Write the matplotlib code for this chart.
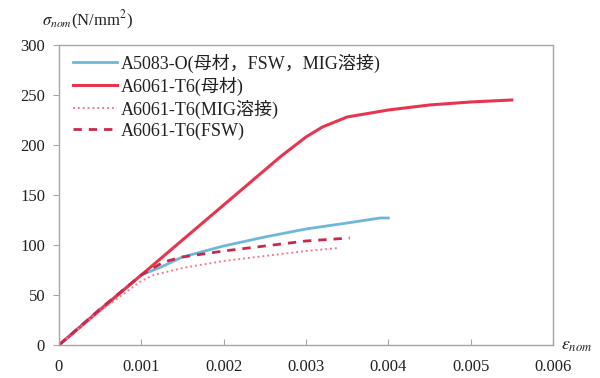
import matplotlib
matplotlib.use("Agg")
import matplotlib.pyplot as plt

plt.rcParams['font.family'] = ['Liberation Serif', 'Noto Sans CJK JP']
plt.rcParams['mathtext.fontset'] = 'stix'

# Nominal stress-strain curves
strain_5083 = [0, 0.0005, 0.001, 0.00124, 0.0015, 0.002, 0.0025, 0.003, 0.0035, 0.0039, 0.004]
stress_5083 = [0, 36, 70, 78, 88, 99, 108, 116, 122, 127, 127]

strain_6061 = [0, 0.001, 0.002, 0.0027, 0.003, 0.0032, 0.0035, 0.004, 0.0045, 0.005, 0.0055]
stress_6061 = [0, 70, 140, 189, 208, 218, 228, 235, 240, 243, 245]

strain_mig = [0, 0.0005, 0.001, 0.00115, 0.0015, 0.002, 0.0027, 0.003, 0.0034]
stress_mig = [0, 34, 64, 70, 77, 84, 91, 94, 97]

strain_fsw = [0, 0.0005, 0.001, 0.00127, 0.0015, 0.002, 0.0025, 0.003, 0.00353]
stress_fsw = [0, 36, 70, 83, 88, 94, 99, 104, 107]

labels = ['A5083-O(母材，FSW，MIG溶接)', 'A6061-T6(母材)',
          'A6061-T6(MIG溶接)', 'A6061-T6(FSW)']
x_ticks = [0, 0.001, 0.002, 0.003, 0.004, 0.005, 0.006]
x_tick_labels = ['0', '0.001', '0.002', '0.003', '0.004', '0.005', '0.006']
y_ticks = [0, 50, 100, 150, 200, 250, 300]

fig = plt.figure(figsize=(6.0, 3.78), dpi=100)
ax = fig.add_axes([0.0983, 0.0873, 0.8234, 0.7937])

ax.plot(strain_5083, stress_5083, color='#6FB7D8', lw=2.0, label=labels[0])
ax.plot(strain_6061, stress_6061, color='#E8354F', lw=2.2, label=labels[1])
ax.plot(strain_mig, stress_mig, color='#F27C8C', lw=1.4, ls=(0, (1, 1.5)), label=labels[2])
ax.plot(strain_fsw, stress_fsw, color='#C8284A', lw=2.0, ls=(0, (3, 2.5)), label=labels[3])

ax.set_xlim(0, 0.006)
ax.set_ylim(0, 300)
ax.set_xticks(x_ticks)
ax.set_xticklabels(x_tick_labels)
ax.set_yticks(y_ticks)

for s in ax.spines.values():
    s.set_color('#A6A6A6')
    s.set_linewidth(1.0)
ax.tick_params(axis='x', direction='in', length=4, color='#A6A6A6',
               labelsize=12, labelcolor='#222222', pad=10)
ax.tick_params(axis='y', direction='out', length=4, color='#A6A6A6',
               labelsize=12, labelcolor='#222222', pad=6)

leg = ax.legend(loc='upper left', bbox_to_anchor=(0.0, 1.02), frameon=False,
                fontsize=13, handlelength=2.4, handletextpad=0.2,
                labelspacing=0.22, borderaxespad=0.4)
for t in leg.get_texts():
    t.set_color('#222222')

fig.text(0.07, 0.945, r'$\sigma_{nom}$(N/mm$^2$)', fontsize=12, color='#222222',
         va='center', ha='left')
fig.text(0.935, 0.085, r'$\varepsilon_{nom}$', fontsize=13, color='#222222',
         va='center', ha='left')

fig.savefig('out.png', dpi=100, facecolor='white')
